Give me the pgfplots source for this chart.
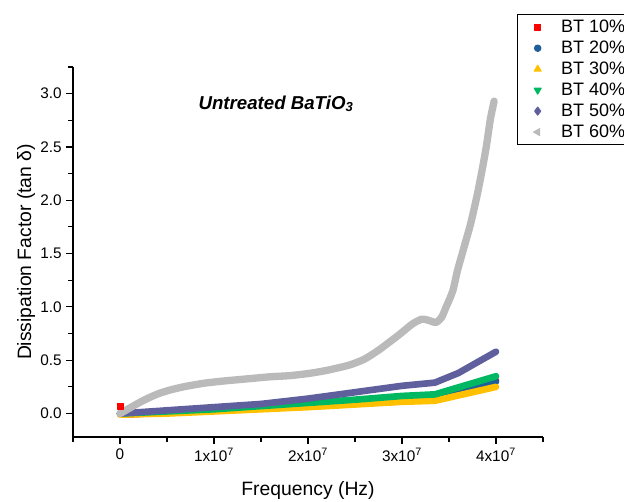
\documentclass[border=0pt]{standalone}
\usepackage{pgfplots}
\pgfplotsset{compat=1.18}
\usepackage{fontspec}
\setmainfont{Liberation Sans}
\definecolor{cred}{HTML}{FF0000}
\definecolor{cblue}{HTML}{1F5F99}
\definecolor{cyellow}{HTML}{FFC000}
\definecolor{cgreen}{HTML}{00B862}
\definecolor{cpurple}{HTML}{5F5F9E}
\definecolor{cgray}{HTML}{BABABA}
\begin{document}
\begin{tikzpicture}
\begin{axis}[
  scale only axis,
  at={(0,0)}, anchor=south west,
  width=352.5pt, height=277.5pt,
  xmin=-5e6, xmax=4.5e7,
  ymin=-0.22, ymax=3.25,
  axis x line=bottom, axis y line=left,
  axis line style={-, line width=0.8pt},
  tick align=outside,
  major tick length=5pt, minor tick length=3.5pt,
  tick style={line width=0.8pt, black},
  xtick={0,1e7,2e7,3e7,4e7},
  xticklabels={0,1x10\textsuperscript{7},2x10\textsuperscript{7},3x10\textsuperscript{7},4x10\textsuperscript{7}},
  minor xtick={-5e6,5e6,1.5e7,2.5e7,3.5e7,4.5e7},
  ytick={0,0.5,1,1.5,2,2.5,3},
  minor ytick={0.25,0.75,1.25,1.75,2.25,2.75,3.25},
  yticklabel style={/pgf/number format/.cd, fixed, fixed zerofill, precision=1, assume math mode=true},
  scaled x ticks=false,
  ticklabel style={font=\fontsize{11.5}{13}\selectfont},
  xlabel={Frequency (Hz)},
  ylabel={Dissipation Factor (tan δ)},
  label style={font=\fontsize{14.5}{16}\selectfont},
  xlabel style={yshift=-8pt},
  ylabel style={yshift=-3pt},
  legend style={at={(0.945,1.143)}, anchor=north west, draw=black, line width=0.8pt,
     font=\fontsize{13.5}{15}\selectfont, row sep=0.8pt, inner xsep=12pt, inner ysep=2pt,
     /tikz/every odd column/.append style={column sep=13pt}},
  legend cell align=left,
  clip=false,
  every axis plot/.append style={line join=round, line cap=round},
]
% legend entries
\addlegendimage{only marks, mark=square*, mark size=2.4pt, color=cred}
\addlegendentry{BT 10\%}
\addlegendimage{only marks, mark=*, mark size=2.4pt, color=cblue}
\addlegendentry{BT 20\%}
\addlegendimage{only marks, mark=triangle*, mark size=3pt, color=cyellow}
\addlegendentry{BT 30\%}
\addlegendimage{only marks, mark=triangle*, mark options={rotate=180}, mark size=3pt, color=cgreen}
\addlegendentry{BT 40\%}
\addlegendimage{only marks, mark=diamond*, mark size=3pt, color=cpurple}
\addlegendentry{BT 50\%}
\addlegendimage{only marks, mark=triangle*, mark options={rotate=90}, mark size=3pt, color=cgray}
\addlegendentry{BT 60\%}
% BT 10%
\addplot[only marks, mark=square*, mark size=2.2pt, color=cred, forget plot] coordinates {(0,0.07)};
\addplot[color=cred, line width=5pt, forget plot] coordinates {
(0.05e7,-0.01) (0.5e7,0.01) (1e7,0.03) (2e7,0.08) (3e7,0.14) (3.35e7,0.155) (4e7,0.31)};
% BT 20%
\addplot[color=cblue, line width=5pt, forget plot] coordinates {
(0,0.0) (0.5e7,0.015) (1e7,0.03) (2e7,0.08) (3e7,0.14) (3.35e7,0.15) (4e7,0.30)};
% BT 30%
\addplot[color=cyellow, line width=5pt, forget plot] coordinates {
(0,-0.01) (0.5e7,0.0) (1e7,0.02) (1.5e7,0.04) (2e7,0.06) (2.5e7,0.085) (3e7,0.11) (3.35e7,0.12) (4e7,0.25)};
% BT 40%
\addplot[color=cgreen, line width=5pt, forget plot] coordinates {
(0,0.0) (0.5e7,0.02) (1e7,0.04) (1.5e7,0.07) (2e7,0.10) (2.5e7,0.13) (3e7,0.165) (3.35e7,0.18) (4e7,0.35)};
% BT 50%
\addplot[color=cpurple, line width=5pt, forget plot] coordinates {
(0,0.0) (0.5e7,0.03) (1e7,0.06) (1.5e7,0.09) (2e7,0.14) (2.5e7,0.20) (3e7,0.26) (3.35e7,0.29) (3.6e7,0.38) (4e7,0.58)};
% BT 60%
\addplot[color=cgray, line width=5.5pt, smooth, tension=0.4, forget plot] coordinates {
(0,0.0) (0.1e7,0.05) (0.2e7,0.10) (0.3e7,0.145) (0.42e7,0.19) (0.55e7,0.225) (0.7e7,0.255) (0.9e7,0.285) (1.1e7,0.305) (1.35e7,0.325) (1.6e7,0.345) (1.8e7,0.355) (2.0e7,0.375) (2.2e7,0.405) (2.44e7,0.455) (2.6e7,0.51) (2.76e7,0.60) (2.97e7,0.74) (3.11e7,0.84) (3.21e7,0.885) (3.28e7,0.875) (3.36e7,0.855) (3.42e7,0.9) (3.47e7,1.0) (3.54e7,1.15) (3.59e7,1.34) (3.66e7,1.56) (3.73e7,1.78) (3.80e7,2.05) (3.86e7,2.32) (3.90e7,2.52) (3.94e7,2.76) (3.98e7,2.93)};
\node[font=\fontsize{14}{16}\selectfont\bfseries\itshape] at (axis cs:1.66e7,2.905) {Untreated BaTiO\textsubscript{3}};
\end{axis}
\pgfresetboundingbox
\useasboundingbox (-54.75pt,-48pt) rectangle (413.25pt,327.75pt);
\end{tikzpicture}
\end{document}
